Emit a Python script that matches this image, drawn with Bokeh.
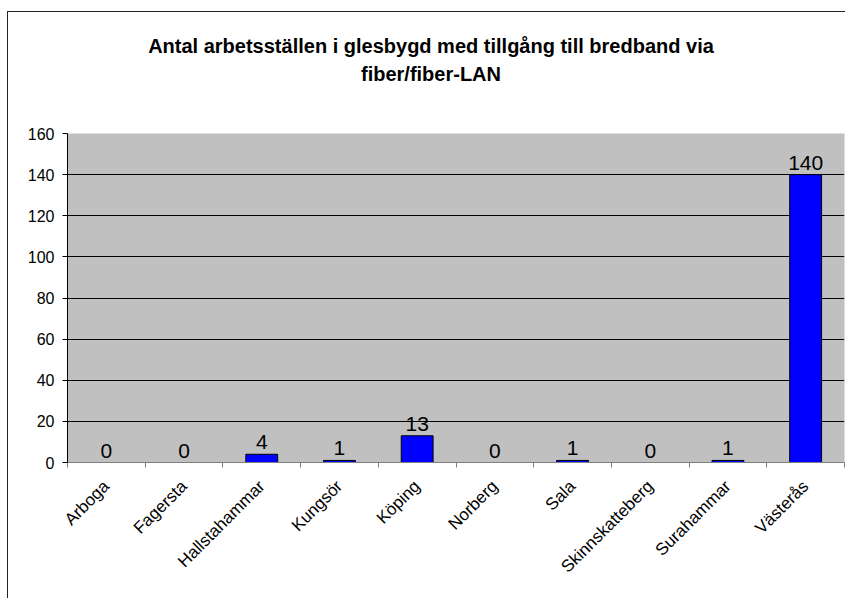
from bokeh.plotting import figure
from bokeh.models import FixedTicker, Range1d, ColumnDataSource, Div
from bokeh.layouts import column
from bokeh.embed import file_html
from bokeh.resources import INLINE
from bokeh.core.properties import value
import math

categories = ["Arboga", "Fagersta", "Hallstahammar", "Kungsör", "Köping",
              "Norberg", "Sala", "Skinnskatteberg", "Surahammar", "Västerås"]
values = [0, 0, 4, 1, 13, 0, 1, 0, 1, 140]
y_ticks = [0, 20, 40, 60, 80, 100, 120, 140, 160]
title_lines = ["Antal arbetsställen i glesbygd med tillgång till bredband via",
               "fiber/fiber-LAN"]

FONT = "Liberation Sans"
n = len(categories)
centers = [i + 0.5 for i in range(n)]

title_html = (
    '<div style="position:absolute;left:0;top:20px;width:846px;text-align:center;'
    f"font-family:'{FONT}';font-weight:bold;font-size:20px;line-height:28px;color:black;\">"
    + "<br>".join(title_lines) + "</div>"
)
title_div = Div(text=title_html, width=837, height=111, margin=0,
                styles={"background-color": "white"})

p = figure(width=837, height=475, output_backend="svg", toolbar_location=None,
           x_range=Range1d(0, n), y_range=Range1d(0, 160),
           min_border_left=59, min_border_right=1, min_border_bottom=136,
           min_border_top=10,
           background_fill_color="#C0C0C0", border_fill_color="white",
           outline_line_color=None)

src = ColumnDataSource(dict(x=centers, top=values, label=[str(v) for v in values]))
p.vbar(x="x", top="top", width=0.41, source=src, fill_color="#0000FF",
       line_color="black", line_width=1)
p.text(x="x", y="top", text="label", source=src, text_align="center",
       text_baseline="alphabetic", y_offset=-12, text_font=value(FONT),
       text_font_size="21px", text_color="black")

# grid
p.xgrid.visible = False
p.ygrid.ticker = FixedTicker(ticks=y_ticks[1:-1])
p.ygrid.grid_line_color = "black"
p.ygrid.grid_line_width = 1

# y axis
p.yaxis.ticker = FixedTicker(ticks=y_ticks)
p.yaxis.axis_line_color = "black"
p.yaxis.major_tick_line_color = "black"
p.yaxis.major_tick_in = 0
p.yaxis.major_tick_out = 5
p.yaxis.minor_tick_line_color = None
p.yaxis.major_label_text_font = FONT
p.yaxis.major_label_text_font_size = "16px"
p.yaxis.major_label_text_color = "black"
p.yaxis.major_label_standoff = 8

# x axis
p.xaxis.ticker = FixedTicker(ticks=centers, minor_ticks=list(range(n + 1)))
p.xaxis.major_label_overrides = {c: name for c, name in zip(centers, categories)}
p.xaxis.axis_line_color = "#808080"
p.xaxis.major_tick_line_color = None
p.xaxis.minor_tick_line_color = "#808080"
p.xaxis.minor_tick_in = 0
p.xaxis.minor_tick_out = 5
p.xaxis.major_label_orientation = math.pi / 4
p.xaxis.major_label_text_font = FONT
p.xaxis.major_label_text_font_size = "17px"
p.xaxis.major_label_text_color = "black"
p.xaxis.major_label_standoff = 15

root = column(title_div, p, spacing=0,
              styles={"margin-left": "7px", "margin-top": "11px",
                      "border-left": "1px solid #222", "border-top": "1px solid #222",
                      "background-color": "white"})

open("out.html", "w").write(file_html(root, INLINE))
